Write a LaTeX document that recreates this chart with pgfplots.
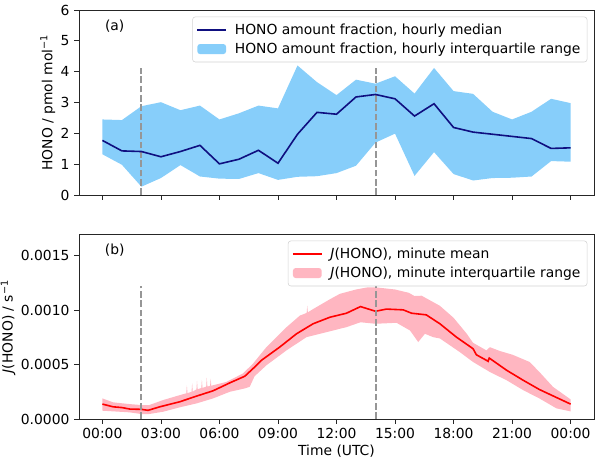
\documentclass[border=0pt]{standalone}
\usepackage{fontspec}
\setmainfont{DejaVu Sans}
\usepackage{pgfplots}
\pgfplotsset{compat=1.18}
\usepackage{pgfplotstable}
\usepgfplotslibrary{fillbetween}
\definecolor{lsb}{RGB}{135,206,250}
\definecolor{lpink}{RGB}{255,182,193}
\definecolor{navyline}{RGB}{15,15,128}
\definecolor{dashgray}{RGB}{150,150,150}
\definecolor{legframe}{RGB}{210,210,210}

\pgfplotstableread{
h med lo hi
0 1.77 1.32 2.45
1 1.43 0.98 2.43
2 1.41 0.27 2.88
3 1.24 0.55 3.01
4 1.41 0.97 2.75
5 1.61 0.60 2.90
6 1.01 0.53 2.45
7 1.16 0.52 2.65
8 1.45 0.71 2.90
9 1.03 0.49 2.81
10 1.97 0.59 4.20
11 2.68 0.61 3.66
12 2.62 0.71 3.24
13 3.18 0.95 3.74
14 3.26 1.70 3.61
15 3.12 1.99 3.85
16 2.56 0.62 3.29
17 2.96 1.39 4.12
18 2.19 0.68 3.37
19 2.04 0.47 3.28
20 1.97 0.55 2.70
21 1.90 0.56 2.45
22 1.83 0.60 2.70
23 1.51 1.10 3.12
24 1.53 1.08 2.98
}\hono

\pgfplotstableread{
h v
0 0.000137
0.55 0.000112
1.0 0.000105
1.4 0.0000914
2.0 0.0000886
2.34 0.0000795
2.94 0.000112
3.96 0.000158
4.82 0.000210
5.67 0.000259
6.53 0.000332
7.3 0.000393
7.72 0.000463
8.15 0.000539
9.09 0.000661
9.95 0.000783
10.8 0.000875
11.66 0.000935
12.51 0.000972
13.23 0.001033
14.0 0.000990
14.56 0.001010
15.42 0.001003
15.85 0.000972
16.6 0.000957
17.3 0.000875
18.15 0.000752
19.0 0.000646
19.17 0.000590
19.69 0.000539
19.77 0.000530
19.83 0.000560
20.72 0.000448
21.57 0.000356
22.4 0.000271
23.27 0.000198
24.0 0.000137
}\jmean

\pgfplotstableread{
h v
0 0.000189
0.55 0.000153
1.4 0.000137
2.0 0.000128
2.4 0.000128
3.11 0.000174
3.96 0.000219
4.30 0.000236
4.33 0.000310
4.36 0.000238
4.57 0.000250
4.60 0.000330
4.63 0.000252
4.82 0.000272
4.85 0.000350
4.88 0.000273
5.07 0.000285
5.10 0.000360
5.13 0.000286
5.32 0.000297
5.35 0.000380
5.38 0.000298
5.52 0.000305
5.55 0.000370
5.58 0.000306
5.67 0.000310
6.36 0.000341
7.2 0.000418
7.72 0.000509
8.41 0.000661
9.44 0.000844
10.12 0.000950
10.47 0.000975
10.50 0.001040
10.53 0.000980
10.8 0.001010
11.66 0.001100
12.17 0.001150
13.0 0.001190
13.6 0.001210
14.0 0.001210
15.0 0.001190
15.7 0.001160
16.0 0.001130
16.36 0.001133
17.13 0.001057
17.3 0.001040
18.0 0.000930
18.67 0.000785
19.0 0.000700
19.69 0.000630
19.86 0.000660
20.37 0.000625
21.03 0.000590
21.9 0.000524
22.4 0.000432
23.1 0.000295
24.0 0.000180
}\jhi

\pgfplotstableread{
h v
0 0.0000762
1.4 0.0000610
2.0 0.0000457
2.4 0.0000457
3.11 0.0000667
3.96 0.000107
4.82 0.000143
5.67 0.000189
6.53 0.000250
7.3 0.000281
7.55 0.000296
7.8 0.000393
8.41 0.000494
9.44 0.000631
10.46 0.000752
11.49 0.000798
12.17 0.000829
12.51 0.000844
13.23 0.000889
14.0 0.000875
15.08 0.000884
15.77 0.000813
16.19 0.000707
16.53 0.000783
16.96 0.000752
17.3 0.000740
18.32 0.000615
19.0 0.000524
19.86 0.000432
20.72 0.000356
21.57 0.000265
22.4 0.000189
23.27 0.000098
24.0 0.000070
}\jlo

\newcommand{\fs}{\fontsize{10.4}{12.5}\selectfont}
\pgfplotsset{
  mystyle/.style={
    scale only axis, width=386.25pt, height=138.75pt,
    xmin=-1.2, xmax=25.2, xtick={0,3,...,24},
    axis line style={line width=0.6pt, black!85},
    tick style={line width=0.6pt, black!85},
    tick align=outside, major tick length=3.65pt,
    xtick pos=lower, ytick pos=left,
    ticklabel style={font=\fs},
    label style={font=\fs},
    ylabel style={inner sep=0.5pt},
    xlabel style={inner sep=1pt},
    /pgf/number format/assume math mode=true,
    legend style={font=\fs, draw=legframe, rounded corners=2pt,
      fill=white, anchor=north east, at={(0.987,0.964)}, inner xsep=3pt, inner ysep=3pt,
      row sep=1pt, cells={anchor=west},
      /tikz/every odd column/.append style={column sep=4pt}},
  },
  lineleg/.style={legend image code/.code={\draw[##1] (0pt,0pt) -- (21.5pt,0pt);}},
  arealeg/.style={legend image code/.code={\fill[##1] (0pt,-3.75pt) rectangle (21.5pt,3.75pt);}},
}

\begin{document}
\begin{tikzpicture}
\begin{axis}[mystyle, at={(0pt,168pt)}, anchor=south west,
  ymin=0, ymax=6, ytick={0,1,...,6}, xticklabels={},
  ylabel={HONO / pmol mol\textsuperscript{−1}}]
\addplot[name path=hh, draw=none, forget plot] table[x=h, y=hi] {\hono};
\addplot[name path=hl, draw=none, forget plot] table[x=h, y=lo] {\hono};
\addplot[fill=lsb, draw=none, forget plot] fill between[of=hh and hl];
\addplot[dashgray, line width=1.5pt, dash pattern=on 5pt off 2pt, forget plot] coordinates {(2,0) (2,4.12)};
\addplot[dashgray, line width=1.5pt, dash pattern=on 5pt off 2pt, forget plot] coordinates {(14,0) (14,4.12)};
\addplot[navyline, line width=1.2pt, forget plot] table[x=h, y=med] {\hono};
\addlegendimage{lineleg, navyline, line width=1.2pt}
\addlegendentry{HONO amount fraction, hourly median}
\addlegendimage{arealeg, fill=lsb, draw=none}
\addlegendentry{HONO amount fraction, hourly interquartile range}
\node[font=\fs] at (axis cs:0.63,5.48) {(a)};
\end{axis}
\begin{axis}[mystyle, at={(0pt,0pt)}, anchor=south west,
  ymin=0, ymax=0.0017, ytick={0,0.0005,0.001,0.0015},
  scaled y ticks=false,
  yticklabel style={/pgf/number format/fixed, /pgf/number format/fixed zerofill, /pgf/number format/precision=4},
  xticklabels={00:00,03:00,06:00,09:00,12:00,15:00,18:00,21:00,00:00},
  xlabel={Time (UTC)},
  ylabel={\textit{J}(HONO) / s\textsuperscript{−1}}]
\addplot[name path=jh, draw=none, forget plot] table[x=h, y=v] {\jhi};
\addplot[name path=jl, draw=none, forget plot] table[x=h, y=v] {\jlo};
\addplot[fill=lpink, draw=none, forget plot] fill between[of=jh and jl];
\addplot[red, line width=1.2pt, forget plot] table[x=h, y=v] {\jmean};
\addplot[dashgray, line width=1.5pt, dash pattern=on 5pt off 2pt, forget plot] coordinates {(2,0) (2,0.00122)};
\addplot[dashgray, line width=1.5pt, dash pattern=on 5pt off 2pt, forget plot] coordinates {(14,0) (14,0.00122)};
\addlegendimage{lineleg, red, line width=1.2pt}
\addlegendentry{\textit{J}(HONO), minute mean}
\addlegendimage{arealeg, fill=lpink, draw=none}
\addlegendentry{\textit{J}(HONO), minute interquartile range}
\node[font=\fs] at (axis cs:0.63,0.00155) {(b)};
\end{axis}
\pgfresetboundingbox
\useasboundingbox (-59.25pt,-30.75pt) rectangle (390.75pt,314.25pt);
\end{tikzpicture}
\end{document}
